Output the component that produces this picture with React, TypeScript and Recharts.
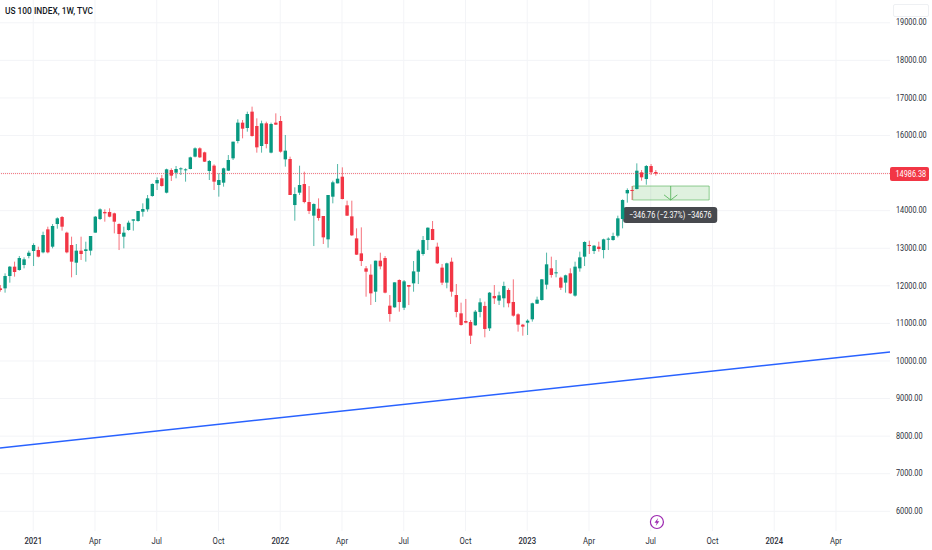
import React from "react";
import { ComposedChart, Bar, XAxis, YAxis, CartesianGrid, ReferenceLine, ReferenceArea, ReferenceDot } from "recharts";

const opens = [
  11933,11933,12261,12510,12421,12554,12794,12927,12953,12891,
  13503,13042,13645,13831,13415,13086,12616,12936,12927,12936,
  13415,13778,13965,13965,13929,13645,13308,13486,13734,13725,
  13973,14035,14390,14727,14861,14479,15082,15011,15109,15082,
  15109,15437,15659,15552,15056,15198,14683,14745,15065,15393,
  15854,16342,16200,16635,16253,15721,16324,15544,16342,16386,
  15366,15375,14150,14479,14709,14230,13867,14053,13858,13237,
  14372,14727,14904,14142,13849,13263,12864,12465,12297,11844,
  12669,12740,11472,11427,12155,11418,12022,12066,12376,12847,
  13219,13512,13042,12484,12085,12643,11756,11268,11064,11038,
  10949,11304,11464,10869,11730,11606,11668,11889,11570,11242,
  10967,11020,11109,11526,11623,12031,12466,12333,12218,12085,
  12333,11739,12465,12776,13086,12926,13042,12953,13237,13219,
  13334,13778,14461,14550,14576,15020,14842,15188,15029,
];
const highs = [
  12022,12332,12528,12643,12794,12758,12936,13131,13042,13441,
  13574,13645,13823,13858,13441,13308,13113,13308,13175,13326,
  13858,14062,14035,14062,13947,13663,13574,13734,13769,13991,
  14195,14417,14727,14887,14949,15118,15127,15189,15153,15127,
  15437,15685,15685,15570,15348,15233,14994,15144,15481,15836,
  16431,16413,16635,16768,16457,16395,16368,16342,16590,16519,
  16014,15437,14621,15197,15037,14656,14195,14328,13858,14417,
  14798,15241,15153,14266,14266,13530,13556,12527,12572,12669,
  12882,12793,11756,12093,12172,12155,12022,12660,12971,13326,
  13556,13725,13149,12581,12617,12750,12049,11552,11650,11091,
  11357,11668,11579,11836,12022,11845,12111,11934,12173,11268,
  10985,11109,11552,11712,12182,12883,12776,12688,12244,12297,
  12466,12643,12909,13184,13201,13086,13175,13255,13290,13414,
  13867,14301,14594,14656,15259,15082,15215,15241,15082,
];
const lows = [
  11845,11818,12084,12244,12403,12465,12732,12528,12758,12865,
  12865,12998,13521,13468,12865,12226,12288,12687,12643,12811,
  13415,13752,13707,13823,13397,12953,12998,13468,13468,13707,
  13840,13973,14372,14550,14639,14461,14790,14861,14949,14772,
  15100,15419,15402,15295,14816,14550,14373,14639,15056,15348,
  15792,15925,16102,15969,15544,15544,15659,15526,16280,15544,
  15171,14417,13734,14417,14195,13911,13059,13734,13113,13015,
  14195,14727,14301,13858,13326,12820,12527,11711,11490,11569,
  12439,11800,11046,11418,11312,11356,11489,11844,12048,12802,
  12953,13219,12581,12022,11934,11712,11162,10940,11002,10452,
  10940,11162,10630,10798,11517,11490,11428,11428,11180,10781,
  10674,10692,11047,11517,11606,11907,12218,12226,11889,11818,
  11783,11712,12376,12527,12847,12847,12909,12731,12953,13201,
  13290,13530,14213,14283,14567,14798,14691,14949,14931,
];
const closes = [
  11889,12261,12510,12368,12740,12705,12882,13086,12776,13352,
  12891,13592,13796,13574,12891,12643,12936,12847,12971,13326,
  13840,14035,13929,13840,13707,13379,13415,13681,13769,13991,
  14044,14328,14710,14816,14657,15100,14931,15109,15127,15100,
  15419,15659,15419,15304,15322,14772,14816,15127,15348,15836,
  16342,16182,16572,15987,15685,16324,15774,16306,16289,15570,
  15597,14417,14443,14683,14230,13991,14177,13805,13290,14417,
  14754,14851,14310,13867,13343,12829,12660,12376,11800,12669,
  12518,11818,11250,12093,11569,12119,11977,12385,12935,13219,
  13547,13219,12599,12085,12599,11845,11304,10958,11020,10674,
  11313,11561,10852,11818,11668,11747,11996,11535,11206,10967,
  10914,11073,11535,11632,12173,12572,12289,12359,11951,12280,
  11801,12510,12758,13166,13059,13068,12980,13237,13255,13325,
  13796,14283,14550,14532,15064,14887,15188,15020,14986,
];

const xTickWeeks = [7, 20, 33, 46, 59, 72, 85, 98, 111, 124, 137, 150, 163, 176];
const xTickLabels = ["2021", "Apr", "Jul", "Oct", "2022", "Apr", "Jul", "Oct", "2023", "Apr", "Jul", "Oct", "2024", "Apr"];
const yTicks = [6000, 7000, 8000, 9000, 10000, 11000, 12000, 13000, 14000, 16000, 17000, 18000, 19000];
const yGrid = [6000, 7000, 8000, 9000, 10000, 11000, 12000, 13000, 14000, 15000, 16000, 17000, 18000, 19000];

const lastPrice = 14986.38;
const trendStart = 7685;
const trendEnd = 10240;
const zoneTop = 14656;
const zoneBottom = 14284;
const badgeText = "\u2212346.76 (\u22122.37%) \u221234676";

const UP = "#089981";
const DOWN = "#f23645";
const FONT = "Roboto, sans-serif";
const INK = "#2a2e39";

const rows = opens.map((o, i) => ({ week: i, range: [lows[i], highs[i]], o, h: highs[i], l: lows[i], c: closes[i] }));

function Candle(props: any) {
  const { x, y, width, height, payload } = props;
  const { o, h, l, c } = payload;
  const perUnit = height / (h - l);
  const color = c >= o ? UP : DOWN;
  const cx = x + width / 2;
  const top = y + (h - Math.max(o, c)) * perUnit;
  const bodyH = Math.max(Math.abs(o - c) * perUnit, 1);
  return (
    <g>
      <line x1={cx} x2={cx} y1={y} y2={y + height} stroke={color} strokeWidth={1} strokeOpacity={0.7} />
      <rect x={cx - 1.7} y={top} width={3.4} height={bodyH} fill={color} />
    </g>
  );
}

function Squeezed(props: any) {
  const { x, y, squeeze, children, ...rest } = props;
  return (
    <text transform={`translate(${x} ${y}) scale(${squeeze} 1)`} x={0} y={0} dominantBaseline="central" fontFamily={FONT} {...rest}>
      {children}
    </text>
  );
}

function XTick(props: any) {
  const { x, y, payload } = props;
  const label = xTickLabels[xTickWeeks.indexOf(payload.value)];
  const isYear = /^\d/.test(label);
  return (
    <Squeezed x={x} y={y} squeeze={0.86} textAnchor="middle" fontSize={9} fontWeight={isYear ? 500 : 400} fill={INK}>
      {label}
    </Squeezed>
  );
}

function YTick(props: any) {
  const { x, y, payload } = props;
  return (
    <Squeezed x={x} y={y} squeeze={0.83} textAnchor="start" fontSize={8.8} fill={INK}>
      {payload.value.toFixed(2)}
    </Squeezed>
  );
}

function PriceBadge(props: any) {
  const { viewBox } = props;
  const right = viewBox.x + viewBox.width;
  const cy = viewBox.y + 0.5;
  return (
    <g>
      <rect x={right} y={cy - 7} width={39} height={14} rx={2} fill={DOWN} />
      <Squeezed x={right + 5.5} y={cy} squeeze={0.83} fontSize={8.8} fill="#ffffff">
        {lastPrice.toFixed(2)}
      </Squeezed>
    </g>
  );
}

function TooltipLabel(props: any) {
  const { viewBox } = props;
  return (
    <Squeezed x={viewBox.x + viewBox.width / 2} y={viewBox.y + viewBox.height / 2} squeeze={0.82} textAnchor="middle" fontSize={8.8} fill="#ffffff">
      {badgeText}
    </Squeezed>
  );
}

function BoltIcon(props: any) {
  const { cx, cy } = props;
  return (
    <g>
      <circle cx={cx} cy={cy} r={6.5} fill="#ffffff" stroke="#9c27b0" strokeWidth={1.2} />
      <path d={`M${cx + 1.2} ${cy - 4}L${cx - 2.4} ${cy + 0.8}H${cx - 0.2}L${cx - 1.2} ${cy + 4}L${cx + 2.4} ${cy - 0.8}H${cx + 0.2}Z`} fill="#9c27b0" />
    </g>
  );
}

export default function App() {
  return (
    <div style={{ position: "absolute", left: 0, top: 0, width: 932, height: 550, background: "#ffffff", overflow: "hidden" }}>
      <ComposedChart width={932} height={550} data={rows} margin={{ top: 0, right: 0, bottom: 0, left: 0 }}>
        <CartesianGrid stroke="#f3f4f7" strokeWidth={1} horizontalValues={yGrid} verticalValues={xTickWeeks} />
        <XAxis
          dataKey="week"
          type="number"
          domain={[0, 187.37]}
          allowDataOverflow
          ticks={xTickWeeks}
          axisLine={false}
          tickLine={false}
          tickSize={0}
          tickMargin={10}
          height={19}
          interval={0}
          tick={<XTick />}
        />
        <YAxis
          orientation="right"
          type="number"
          domain={[5476, 19606]}
          allowDataOverflow
          ticks={yTicks}
          width={42}
          axisLine={false}
          tickLine={false}
          tickSize={0}
          tickMargin={6}
          interval={0}
          tick={<YTick />}
        />
        <ReferenceLine y={lastPrice} stroke={DOWN} strokeOpacity={0.7} strokeWidth={1} strokeDasharray="1 1" label={(p: any) => <PriceBadge {...p} />} />
        <ReferenceLine
          segment={[{ x: 0, y: trendStart }, { x: 187.37, y: trendEnd }]}
          stroke="#2962ff"
          strokeWidth={1.5}
        />
        <Bar dataKey="range" barSize={3.4} isAnimationActive={false} shape={(p: any) => <Candle {...p} />} />
        <ReferenceArea x1={133.2} x2={149.3} y1={zoneBottom} y2={zoneTop} fill="#4caf50" fillOpacity={0.18} stroke="#4caf50" strokeOpacity={0.6} strokeWidth={1} />
        <ReferenceLine segment={[{ x: 141.2, y: zoneTop }, { x: 141.2, y: zoneBottom }]} stroke="#4caf50" strokeOpacity={0.8} strokeWidth={1} />
        <ReferenceLine segment={[{ x: 139.8, y: 14420 }, { x: 141.2, y: zoneBottom }]} stroke="#4caf50" strokeOpacity={0.8} strokeWidth={1} />
        <ReferenceLine segment={[{ x: 142.6, y: 14420 }, { x: 141.2, y: zoneBottom }]} stroke="#4caf50" strokeOpacity={0.8} strokeWidth={1} />
        <ReferenceArea
          x1={131.2}
          x2={151}
          y1={13672}
          y2={14097}
          fill="#47494e"
          fillOpacity={1}
          radius={3}
          label={(p: any) => <TooltipLabel {...p} />}
        />
        <ReferenceDot x={138.3} y={5716} r={6.5} shape={(p: any) => <BoltIcon {...p} />} />
      </ComposedChart>
      <div style={{ position: "absolute", left: 5, top: 5, fontFamily: FONT, fontSize: 9.5, fontWeight: 500, lineHeight: "12px", color: "#131722", whiteSpace: "nowrap", transform: "scaleX(0.88)", transformOrigin: "left center" }}>
        US 100 INDEX, 1W, TVC
      </div>
      <div style={{ position: "absolute", left: 893, top: 4, width: 34, height: 11, border: "1px solid #eef0f3", borderRadius: 2, background: "#ffffff" }} />
    </div>
  );
}
